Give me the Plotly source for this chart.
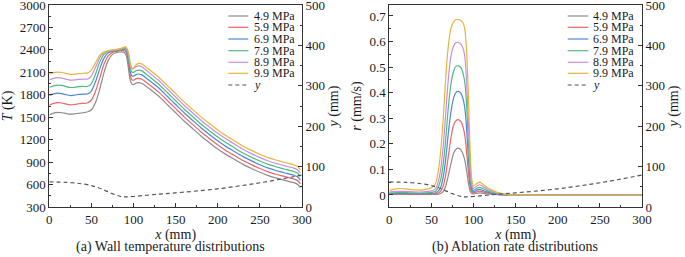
import plotly.graph_objects as go

# ---------------- data ----------------
pressures = ["4.9 MPa", "5.9 MPa", "6.9 MPa", "7.9 MPa", "8.9 MPa", "9.9 MPa"]
colors = ["#8c8c8c", "#f06464", "#4f86d6", "#4cbb7c", "#c98fdc", "#e8b53c"]

x_T = [0, 5, 10, 15, 20, 25, 30, 35, 40, 45, 50, 55, 60, 65, 70, 75, 80, 85, 88, 90,
       92, 94, 96, 98, 100, 103, 106, 110, 120, 130, 140, 150, 160, 170, 180, 190,
       200, 210, 220, 230, 240, 250, 260, 270, 280, 290, 295, 298]

T_49 = [1530, 1555, 1565, 1560, 1550, 1542, 1545, 1553, 1560, 1570, 1600, 1700, 1880, 2100,
        2260, 2340, 2365, 2372, 2370, 2355, 2300, 2150, 2000, 1945, 1935, 1955, 1962, 1950,
        1870, 1780, 1670, 1560, 1450, 1350, 1250, 1160, 1075, 1000, 935, 870, 815, 765,
        720, 685, 655, 625, 600, 560]
T_59 = [1660, 1685, 1695, 1690, 1675, 1665, 1670, 1680, 1685, 1690, 1730, 1850, 2030, 2210,
        2320, 2365, 2380, 2390, 2392, 2385, 2350, 2220, 2060, 2000, 1995, 2015, 2020, 2008,
        1925, 1835, 1725, 1615, 1505, 1405, 1305, 1215, 1130, 1053, 987, 921, 866, 815,
        770, 735, 705, 675, 650, 610]
T_69 = [1790, 1812, 1822, 1815, 1800, 1790, 1795, 1805, 1810, 1810, 1850, 1980, 2150, 2290,
        2360, 2380, 2390, 2400, 2405, 2405, 2375, 2270, 2110, 2055, 2050, 2070, 2078, 2066,
        1980, 1890, 1780, 1670, 1560, 1460, 1360, 1270, 1185, 1107, 1040, 973, 917, 865,
        820, 785, 755, 725, 700, 660]
T_79 = [1900, 1920, 1930, 1925, 1910, 1898, 1900, 1908, 1912, 1910, 1950, 2080, 2240, 2340,
        2375, 2390, 2398, 2408, 2415, 2420, 2395, 2310, 2160, 2105, 2100, 2122, 2130, 2120,
        2030, 1940, 1830, 1720, 1610, 1510, 1410, 1320, 1235, 1158, 1090, 1022, 966, 915,
        870, 835, 805, 775, 750, 710]
T_89 = [2000, 2020, 2028, 2022, 2008, 1995, 1998, 2006, 2010, 2010, 2050, 2170, 2300, 2360,
        2385, 2395, 2403, 2415, 2422, 2432, 2410, 2340, 2200, 2150, 2150, 2175, 2185, 2175,
        2080, 1990, 1880, 1770, 1660, 1560, 1460, 1370, 1285, 1208, 1140, 1071, 1013, 960,
        915, 880, 850, 820, 795, 755]
T_99 = [2080, 2095, 2102, 2098, 2085, 2072, 2075, 2082, 2088, 2090, 2130, 2230, 2330, 2370,
        2390, 2400, 2408, 2420, 2430, 2445, 2425, 2370, 2240, 2160, 2155, 2200, 2220, 2212,
        2125, 2035, 1925, 1815, 1705, 1605, 1505, 1415, 1330, 1252, 1183, 1113, 1057, 1005,
        960, 925, 895, 865, 840, 800]
T_series = [T_49, T_59, T_69, T_79, T_89, T_99]

x_r = [0, 10, 20, 30, 40, 50, 55, 58, 61, 64, 67, 70, 73, 76, 79, 82, 85, 88, 90, 92, 94,
       96, 98, 100, 104, 107, 110, 115, 120, 130, 140, 150, 200, 250, 300]
r_49 = [0.002, 0.002, 0.002, 0.002, 0.002, 0.002, 0.002, 0.003, 0.006, 0.013, 0.035, 0.075,
        0.12, 0.16, 0.178, 0.183, 0.176, 0.155, 0.13, 0.09, 0.045, 0.015, 0.006, 0.004,
        0.006, 0.008, 0.007, 0.005, 0.003, 0.001, 0.0, 0.0, 0.0, 0.0, 0.0]
r_59 = [0.003, 0.003, 0.003, 0.003, 0.003, 0.003, 0.004, 0.007, 0.015, 0.035, 0.08, 0.15,
        0.22, 0.27, 0.29, 0.295, 0.287, 0.26, 0.225, 0.16, 0.085, 0.03, 0.012, 0.008,
        0.012, 0.015, 0.013, 0.009, 0.005, 0.001, 0.0, 0.0, 0.0, 0.0, 0.0]
r_69 = [0.005, 0.006, 0.006, 0.005, 0.005, 0.006, 0.008, 0.015, 0.03, 0.07, 0.14, 0.24,
        0.32, 0.375, 0.40, 0.405, 0.397, 0.37, 0.33, 0.25, 0.14, 0.055, 0.02, 0.012,
        0.019, 0.022, 0.019, 0.013, 0.008, 0.002, 0.0, 0.0, 0.0, 0.0, 0.0]
r_79 = [0.008, 0.009, 0.009, 0.008, 0.008, 0.010, 0.015, 0.03, 0.06, 0.12, 0.22, 0.34,
        0.43, 0.48, 0.503, 0.505, 0.498, 0.47, 0.43, 0.34, 0.20, 0.08, 0.03, 0.018,
        0.026, 0.03, 0.027, 0.019, 0.012, 0.004, 0.0, 0.0, 0.0, 0.0, 0.0]
r_89 = [0.012, 0.014, 0.014, 0.012, 0.012, 0.016, 0.025, 0.05, 0.10, 0.19, 0.32, 0.45,
        0.54, 0.58, 0.595, 0.597, 0.59, 0.57, 0.53, 0.43, 0.27, 0.11, 0.04, 0.025,
        0.035, 0.04, 0.036, 0.026, 0.017, 0.006, 0.001, 0.0, 0.0, 0.0, 0.0]
r_99 = [0.018, 0.025, 0.024, 0.020, 0.020, 0.028, 0.045, 0.09, 0.17, 0.30, 0.46, 0.58,
        0.65, 0.675, 0.685, 0.686, 0.682, 0.67, 0.64, 0.55, 0.38, 0.17, 0.06, 0.035,
        0.045, 0.05, 0.045, 0.032, 0.022, 0.008, 0.002, 0.0, 0.0, 0.0, 0.0]
r_series = [r_49, r_59, r_69, r_79, r_89, r_99]

x_y = [0, 20, 40, 55, 65, 75, 85, 90, 100, 120, 150, 200, 250, 300]
y_contour = [62, 61, 57, 50, 42, 33, 26, 25, 26, 30, 35, 45, 60, 79]

x_ticks = [0, 50, 100, 150, 200, 250, 300]
T_ticks = [300, 600, 900, 1200, 1500, 1800, 2100, 2400, 2700, 3000]
y_ticks = [0, 100, 200, 300, 400, 500]
r_ticks = [0, 0.1, 0.2, 0.3, 0.4, 0.5, 0.6, 0.7]
r_ticktext = ["0", "0.1", "0.2", "0.3", "0.4", "0.5", "0.6", "0.7"]

# ---------------- figure ----------------
W, H = 685, 257
FONT = "Liberation Serif"
TXT = "#1a1a1a"
AX = "#333333"
DASH = "4px,3px"

def px(v):
    return v / W

def py(v):
    return 1 - v / H

fig = go.Figure()

for name, col, T in zip(pressures, colors, T_series):
    fig.add_trace(go.Scatter(x=x_T, y=T, mode="lines", name=name, showlegend=False,
                             line=dict(color=col, width=1.2, shape="spline", smoothing=0.5),
                             xaxis="x", yaxis="y"))
fig.add_trace(go.Scatter(x=x_y, y=y_contour, mode="lines", name="y", showlegend=False,
                         line=dict(color="#555555", width=1.2, dash=DASH, shape="spline"),
                         xaxis="x", yaxis="y2"))

for name, col, r in zip(pressures, colors, r_series):
    fig.add_trace(go.Scatter(x=x_r, y=r, mode="lines", name=name, showlegend=False,
                             line=dict(color=col, width=1.2, shape="spline", smoothing=0.5),
                             xaxis="x2", yaxis="y3"))
fig.add_trace(go.Scatter(x=x_y, y=y_contour, mode="lines", name="y", showlegend=False,
                         line=dict(color="#555555", width=1.2, dash=DASH, shape="spline"),
                         xaxis="x2", yaxis="y4"))

ydom = [py(207), py(5)]
tickfont = dict(family=FONT, size=13, color=TXT)
titlefont = dict(family=FONT, size=14, color=TXT)

def xax(domain, anchor):
    return dict(domain=domain, anchor=anchor, range=[0, 300], tickvals=x_ticks,
                ticks="inside", ticklen=4, tickcolor=AX, showline=True, linecolor=AX,
                linewidth=1, mirror=True, showgrid=False, zeroline=False, automargin=False,
                ticklabeloverflow="allow",
                minor=dict(ticks="inside", ticklen=2, dtick=25, tickcolor=AX),
                tickfont=tickfont, title=dict(text="<i>x</i> (mm)", font=titlefont, standoff=0))

def yax(rng, tickvals, minor, title, anchor, side="left", overlaying=None, standoff=4,
        ticktext=None):
    d = dict(range=rng, tickvals=tickvals, ticks="inside", ticklen=4, tickcolor=AX,
             showline=True, linecolor=AX, linewidth=1, showgrid=False, zeroline=False,
             automargin=False, ticklabeloverflow="allow",
             minor=dict(ticks="inside", ticklen=2, dtick=minor, tickcolor=AX),
             tickfont=tickfont, side=side, anchor=anchor,
             title=dict(text=title, font=titlefont, standoff=standoff))
    if ticktext is not None:
        d["ticktext"] = ticktext
    if overlaying:
        d["overlaying"] = overlaying
    else:
        d["domain"] = ydom
    return d

fig.update_layout(
    width=W, height=H, margin=dict(l=0, r=0, t=0, b=0, autoexpand=False),
    paper_bgcolor="white", plot_bgcolor="white", hovermode=False,
    xaxis=xax([px(49.3), px(302)], "y"),
    xaxis2=xax([px(389.3), px(642)], "y3"),
    yaxis=yax([300, 3000], T_ticks, 150, "<i>T</i> (K)", "x"),
    yaxis2=yax([0, 500], y_ticks, 50, "<i>y</i> (mm)", "x", side="right", overlaying="y"),
    yaxis3=yax([-0.047, 0.743], r_ticks, 0.05, "<i>r</i> (mm/s)", "x2", ticktext=r_ticktext),
    yaxis4=yax([0, 500], y_ticks, 50, "<i>y</i> (mm)", "x2", side="right", overlaying="y3"),
)

# manual legends
rows = [16, 27.3, 39, 50.7, 62.3, 73.3, 85]
legend_names = pressures + ["<i>y</i>"]
legend_cols = colors + ["#555555"]
for (lx0, lx1, tx) in [(228.3, 248.3, 252.5), (567.7, 588.3, 591.7)]:
    for i, (nm, col) in enumerate(zip(legend_names, legend_cols)):
        fig.add_shape(type="line", xref="paper", yref="paper",
                      x0=px(lx0), x1=px(lx1), y0=py(rows[i]), y1=py(rows[i]),
                      line=dict(color=col, width=1.2, dash=DASH if i == 6 else "solid"))
        fig.add_annotation(xref="paper", yref="paper", x=px(tx), y=py(rows[i]),
                           text=nm, showarrow=False, xanchor="left", yanchor="middle",
                           borderpad=0, font=dict(family=FONT, size=12, color=TXT))

for text, cx in [("(a) Wall temperature distributions", 170),
                 ("(b) Ablation rate distributions", 515)]:
    fig.add_annotation(xref="paper", yref="paper", x=px(cx), y=py(247), text=text,
                       showarrow=False, xanchor="center", yanchor="middle",
                       font=dict(family=FONT, size=14, color=TXT))

fig.write_html("out.html", config={"displayModeBar": False},
               post_script="document.body.style.margin='0px';")
